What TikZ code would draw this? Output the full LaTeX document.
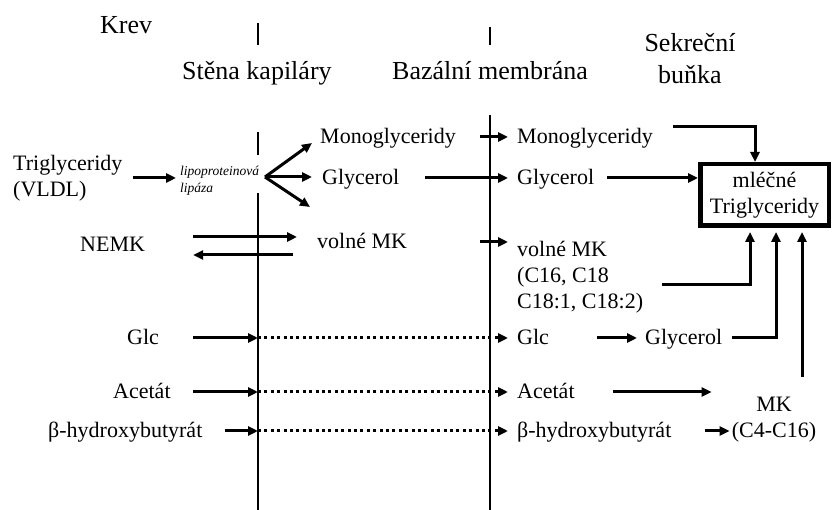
\documentclass[tikz,border=0pt]{standalone}
\usepackage{fontspec}
\setmainfont{Liberation Serif}
\usepackage{tikz}
\usetikzlibrary{positioning, arrows.meta}
\newcommand{\bodyfont}{\fontsize{22}{26}\selectfont}
\newcommand{\headfont}{\fontsize{26}{32}\selectfont}
\newcommand{\enzfont}{\fontsize{13.5}{17}\selectfont\itshape}
\tikzset{
  hd/.style={font=\headfont, inner sep=0pt, anchor=base west},
  tx/.style={font=\bodyfont, inner sep=0pt, text height=15pt, text depth=1pt, anchor=base west},
  txm/.style={font=\bodyfont, inner sep=0pt, align=left},
  enz/.style={font=\enzfont, inner sep=0pt, align=left, anchor=west},
  tgbox/.style={draw, line width=4.5pt, font=\bodyfont, align=center,
    minimum width=128.5pt, minimum height=61.5pt, inner sep=2pt},
  wall/.style={line width=2.7pt},
  arr/.style={-{Triangle[length=10pt,width=9pt]}, line width=3pt},
  dotarr/.style={arr, line width=3pt, dash pattern=on 3pt off 3.4pt},
}

\begin{document}
\begin{tikzpicture}[x=1pt, y=-1pt]
  \useasboundingbox (0,0) rectangle (833,510);
  % headings
  \node[hd] (krev) at (100,34) {Krev};
  \node[hd] (stena) at (182,80) {Stěna kapiláry};
  \node[hd] (bazal) at (392,80) {Bazální membrána};
  \node[hd, anchor=north, align=center] (sekr) at (690,33) {Sekreční\\buňka};
  % walls
  \coordinate (kap) at (258,0);
  \coordinate (bm) at (490,0);
  \coordinate (lx) at (193,0);
  \draw[wall] (258,23) -- (258,45) (258,132) -- (258,155) (258,193) -- (258,510);
  \draw[wall] (490,27) -- (490,45) (490,115) -- (490,510);
  % blood side
  \node[txm, anchor=west] (trig) at (13,178) {Triglyceridy\\(VLDL)};
  \node[enz] (lipo) at (180,181) {lipoproteinová\\lipáza};
  \node[tx] (nemk) at (80,252) {NEMK};
  \node[tx] (glcL) at (127,345) {Glc};
  \node[tx] (aceL) at (113,399) {Acetát};
  \node[tx] (hydL) at (48,438) {β-hydroxybutyrát};
  % between the walls
  \node[tx] (monoL) at (320,144) {Monoglyceridy};
  \node[tx] (glycL) at (322,185) {Glycerol};
  \node[tx] (volL) at (317,249) {volné MK};
  % cell side
  \node[tx] (monoR) at (517,144) {Monoglyceridy};
  \node[tx] (glycR) at (517,185) {Glycerol};
  \node[txm, anchor=north west] (volR) at (517,241) {volné MK\\(C16, C18\\C18:1, C18:2)};
  \node[tx] (glcR) at (517,345) {Glc};
  \node[tx] (glyc2) at (645,345) {Glycerol};
  \node[tx] (aceR) at (517,399) {Acetát};
  \node[tx] (hydR) at (517,438) {β-hydroxybutyrát};
  \node[txm, align=center, anchor=north] (mk) at (774,397) {MK\\(C4-C16)};
  \node[tgbox] (box) at (764.5,195) {mléčné\\Triglyceridy};

  \draw[arr] ([xshift=10pt]trig.east) -- ([xshift=-4pt]trig.east -| lipo.west);
  \coordinate (fan) at (265,177);
  \coordinate (fanlow) at (310,207);
  \draw[arr] (fan) -- ([xshift=-8pt,yshift=-6pt]monoL.west);
  \draw[arr] (fan) -- ([xshift=-10pt]glycL.west |- fan);
  \draw[arr] (fan) -- (fanlow);
  \draw[arr] ([xshift=48pt,yshift=8pt]nemk.east) -- ([xshift=-20pt,yshift=5pt]volL.west);
  \draw[arr] ([xshift=-24pt,yshift=-13pt]volL.west) -- ([xshift=48pt,yshift=-10pt]nemk.east);

  \draw[arr] ([xshift=-10pt]monoR.west -| bm) -- ([xshift=-9pt]monoR.west);
  \draw[arr] ([xshift=26pt]glycL.east) -- ([xshift=-9pt]glycR.west);
  \draw[arr] ([xshift=-10pt,yshift=-1pt]volR.north west -| bm) -- ([xshift=-9pt,yshift=-1pt]volR.north west);

  \draw[arr] (glcL.east -| lx) -- (glcL.east -| kap);
  \draw[arr] (aceL.east -| lx) -- (aceL.east -| kap);
  \draw[arr] ([xshift=22pt]hydL.east) -- (hydL.east -| kap);
  \foreach \l/\r in {glcL/glcR, aceL/aceR, hydL/hydR}
    \draw[dotarr] (\l.east -| kap) -- ([xshift=-9pt]\r.west);

  \draw[arr] ([xshift=20pt,yshift=10pt]monoR.east) -| ([xshift=-9.5pt]box.north);
  \draw[arr] ([xshift=13pt]glycR.east) -- (glycR.east -| box.west);
  \draw[arr] ([xshift=19pt,yshift=-7pt]volR.east) -| ([xshift=-14.5pt,yshift=-4pt]box.south);
  \draw[arr] ([xshift=48pt]glcR.east) -- ([xshift=-8pt]glyc2.west);
  \draw[arr] ([xshift=10pt]glyc2.east) -| ([xshift=11.5pt,yshift=-4pt]box.south);
  \draw[arr] ([xshift=38pt]aceR.east) -- ([xshift=-20pt]aceR.east -| mk.west);
  \draw[arr] ([xshift=33pt]hydR.east) -- ([xshift=-2pt]hydR.east -| mk.west);
  \draw[arr] ([xshift=28pt,yshift=20pt]mk.north) -- ([xshift=37.5pt,yshift=-4pt]box.south);
\end{tikzpicture}
\end{document}
